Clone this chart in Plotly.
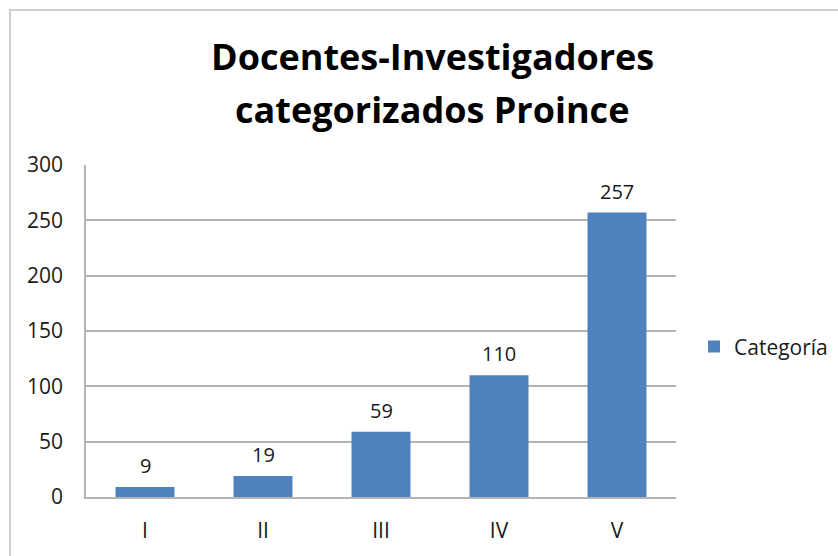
import plotly.graph_objects as go

# data
categorias = ["I", "II", "III", "IV", "V"]
docentes = [9, 19, 59, 110, 257]
serie = "Categoría"
titulo_1 = "Docentes-Investigadores"
titulo_2 = "categorizados Proince"
y_ticks = [0, 50, 100, 150, 200, 250, 300]

FONT = "'Open Sans', Lato, sans-serif"
AZUL = "#4F81BD"
GRIS = "#B4B4B4"
TEXTO = "#1A1A1A"

# plot area in pixels (reference)
L, R, T, B = 86, 676, 165, 499


def py(y):
    return (B - y) / (B - T)


def px(x):
    return (x - L) / (R - L)


fig = go.Figure()

fig.add_trace(go.Bar(
    x=categorias,
    y=docentes,
    name=serie,
    marker=dict(color=AZUL, line=dict(width=0)),
    showlegend=True,
    hovertemplate="%{x}: %{y}<extra></extra>",
))

# etiquetas de datos (algo mas separadas que el 'outside' de plotly)
for cat, val in zip(categorias, docentes):
    fig.add_annotation(x=cat, y=val, text=str(val), showarrow=False,
                       yanchor="bottom", yshift=6,
                       font=dict(family=FONT, size=20, color=TEXTO))

# titulo en dos lineas (Excel usa mas interlineado que plotly)
fig.add_annotation(text=titulo_1, xref="paper", yref="paper",
                   x=px(432), y=py(56), xanchor="center", yanchor="middle",
                   showarrow=False,
                   font=dict(family=FONT, size=36, color="#000000", weight="bold"))
fig.add_annotation(text=titulo_2, xref="paper", yref="paper",
                   x=px(432), y=py(109), xanchor="center", yanchor="middle",
                   showarrow=False,
                   font=dict(family=FONT, size=36, color="#000000", weight="bold"))

# borde del grafico
fig.add_shape(type="rect", xref="paper", yref="paper",
              x0=px(10), x1=px(870), y0=py(590), y1=py(9),
              line=dict(color="#CFCFCF", width=2), fillcolor="rgba(0,0,0,0)",
              layer="below")

fig.update_layout(
    width=838,
    height=556,
    margin=dict(l=L, r=838 - R, t=T, b=556 - B),
    paper_bgcolor="white",
    plot_bgcolor="white",
    bargap=0.5,
    font=dict(family=FONT, size=20, color=TEXTO),
    showlegend=True,
    legend=dict(xref="container", x=694 / 838, y=py(348),
                xanchor="left", yanchor="middle",
                font=dict(family=FONT, size=21, color=TEXTO),
                itemwidth=30, bgcolor="rgba(0,0,0,0)"),
    xaxis=dict(
        showgrid=False,
        showline=True, linecolor=GRIS, linewidth=1.5,
        ticks="", ticklabelstandoff=14,
        tickfont=dict(family=FONT, size=21, color=TEXTO),
    ),
    yaxis=dict(
        range=[0, 300],
        tickvals=y_ticks,
        showgrid=True, gridcolor=GRIS, gridwidth=1.5,
        showline=True, linecolor=GRIS, linewidth=1.5,
        zeroline=False,
        ticks="", ticklabelstandoff=17,
        tickfont=dict(family=FONT, size=21, color=TEXTO),
    ),
)

# sin margen del body para que el grafico quede en (0, 0)
fig.write_html("out.html", config={"displayModeBar": False},
               post_script="document.body.style.margin='0';")
